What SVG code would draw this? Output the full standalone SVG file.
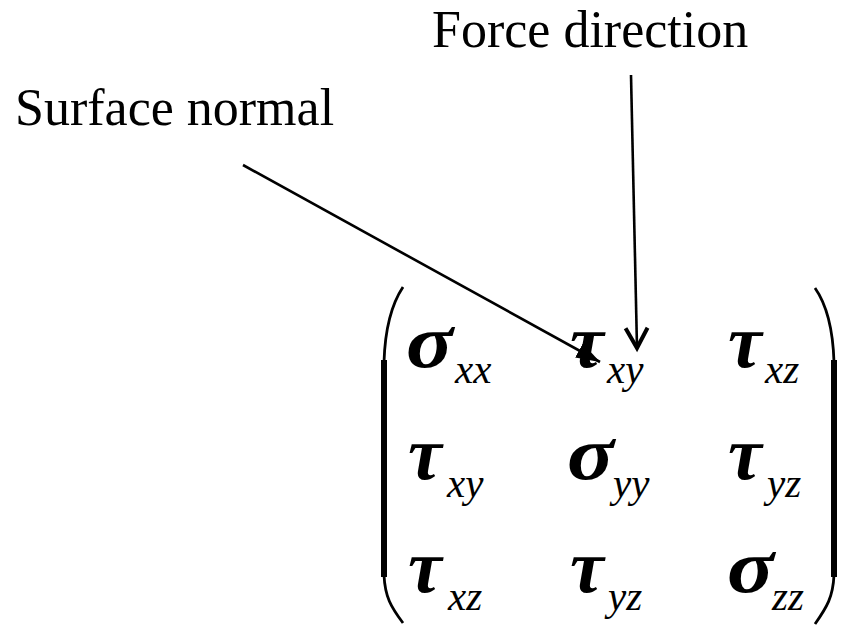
<svg xmlns="http://www.w3.org/2000/svg" width="846" height="630" viewBox="0 0 846 630">
<style>
.lbl{font-size:52px;fill:#000}
.g{font-size:76px;font-weight:bold;font-style:italic;fill:#000}
.s{font-size:41px;font-style:italic;fill:#000}
.ln{stroke:#000;stroke-width:2.6;fill:none}
.br{stroke:#000;stroke-width:2.8;fill:none}
</style>
<defs>
<marker id="fill" markerUnits="userSpaceOnUse" markerWidth="26" markerHeight="18" refX="24" refY="8" orient="auto" viewBox="0 0 26 18">
<path d="M0,0 L24,8 L0,16 z" fill="#000"/>
</marker>
<marker id="vee" markerUnits="userSpaceOnUse" markerWidth="28" markerHeight="28" refX="22" refY="13" orient="auto" viewBox="0 0 28 28">
<path d="M2,2 L22,13 L2,24" fill="none" stroke="#000" stroke-width="4"/>
</marker>
</defs>
<g id="label-surface-normal" style="font-family:'Liberation Serif',serif"><text class="lbl" x="15" y="125">Surface normal</text></g>
<g id="label-force-direction" style="font-family:'Liberation Serif',serif"><text class="lbl" x="432" y="47">Force direction</text></g>
<g id="matrix" style="font-family:'Liberation Serif',serif">
<path class="br" d="M403,287 C391,305 385,330 384,362"/>
<rect x="381" y="360" width="6" height="217" fill="#000"/>
<path class="br" d="M384,575 C385,597 391,607 403,623"/>
<path class="br" d="M815,288 C827,305 833,330 834,362"/>
<rect x="831" y="360" width="6" height="217" fill="#000"/>
<path class="br" d="M834,575 C833,597 827,607 815,624"/>
<text class="g" transform="translate(406,367) scale(1.15,1)">σ</text><text class="s" x="455" y="383">xx</text>
<text class="g" x="570" y="367">τ</text><text class="s" x="607" y="383">xy</text>
<text class="g" x="728" y="367">τ</text><text class="s" x="765" y="383">xz</text>
<text class="g" x="408" y="479">τ</text><text class="s" x="447" y="497">xy</text>
<text class="g" transform="translate(567,479) scale(1.15,1)">σ</text><text class="s" x="613" y="497">yy</text>
<text class="g" transform="translate(727,592) scale(1.15,1)">σ</text><text class="s" x="772" y="610">zz</text>
<text class="g" x="728" y="479">τ</text><text class="s" x="767" y="497">yz</text>
<text class="g" x="408" y="592">τ</text><text class="s" x="448" y="610">xz</text>
<text class="g" x="570" y="592">τ</text><text class="s" x="608" y="610">yz</text>
</g>
<g id="connectors">
<line class="ln" x1="243" y1="165" x2="600" y2="362" marker-end="url(#fill)"/>
<line class="ln" x1="631" y1="75" x2="637" y2="348" marker-end="url(#vee)"/>
</g>
</svg>
